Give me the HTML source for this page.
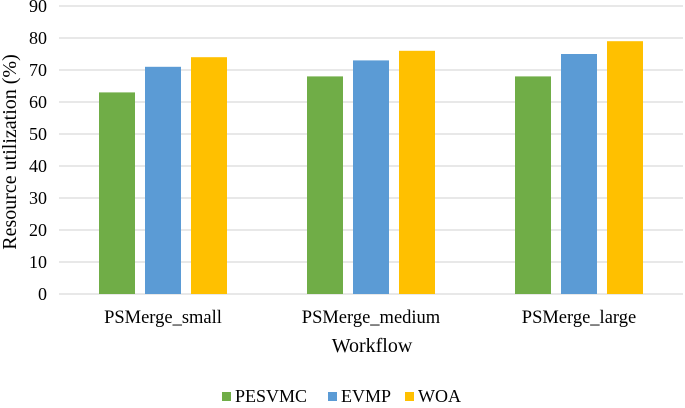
<!DOCTYPE html>
<html><head><meta charset="utf-8"><style>
body{margin:0;background:#fff;}
svg text{font-family:"Liberation Serif",serif;fill:#000;}
</style></head><body>
<svg width="685" height="403">
<g id="grid"></g>
<g id="yt"></g>
<g id="bars"></g>
<g id="xt"></g>
<text x="372" y="352" font-size="20" text-anchor="middle">Workflow</text>
<text transform="translate(16,152) rotate(-90)" font-size="20" text-anchor="middle">Resource utilization (%)</text>
<g id="legend"></g>
</svg>
<script>
const categories=["PSMerge_small","PSMerge_medium","PSMerge_large"];
const seriesNames=["PESVMC","EVMP","WOA"];
const pesvmc=[63,68,68];
const evmp=[71,73,75];
const woa=[74,76,79];
const yTicks=[0,10,20,30,40,50,60,70,80,90];
const colors=["#70ad47","#5b9bd5","#ffc000"];
const series=[pesvmc,evmp,woa];
const NS="http://www.w3.org/2000/svg";
const x0=59,x1=683,yBase=294,yTop=6,yMax=90;
const y=v=>yBase-(v/yMax)*(yBase-yTop);
const bw=(x1-x0)/categories.length;
function mk(tag,attrs,parent,text){const e=document.createElementNS(NS,tag);for(const k in attrs)e.setAttribute(k,attrs[k]);if(text!==undefined)e.textContent=text;parent.appendChild(e);return e;}
const grid=document.getElementById('grid'),yt=document.getElementById('yt');
yTicks.forEach(t=>{
 const l=mk('line',{x1:x0,x2:x1,y1:y(t),y2:y(t),stroke:'#d9d9d9','stroke-width':1.3},grid);
 
 
 const tx=mk('text',{x:47,y:y(t)+6,'font-size':18,'text-anchor':'end'},yt,String(t));
 
 
});
const bars=document.getElementById('bars'),xt=document.getElementById('xt');
const barW=36,gap=10;
categories.forEach((c,i)=>{
 const cx=x0+bw*(i+0.5);
 series.forEach((s,j)=>{
  const bx=cx+(j-1)*(barW+gap)-barW/2;
  const r=mk('rect',{x:bx,y:y(s[i]),width:barW,height:yBase-y(s[i]),fill:colors[j]},bars);
  
  
 });
 const t=mk('text',{x:cx,y:323,'font-size':18.5,'text-anchor':'middle'},xt,c);
 
 
});
const lg=document.getElementById('legend');
const lx=[222,328,405];
seriesNames.forEach((n,j)=>{
 const g=mk('g',{},lg);
 
 
 mk('rect',{x:lx[j],y:392,width:9,height:9,fill:colors[j]},g);
 mk('text',{x:lx[j]+13,y:402,'font-size':18},g,n);
});
</script>
</body></html>
